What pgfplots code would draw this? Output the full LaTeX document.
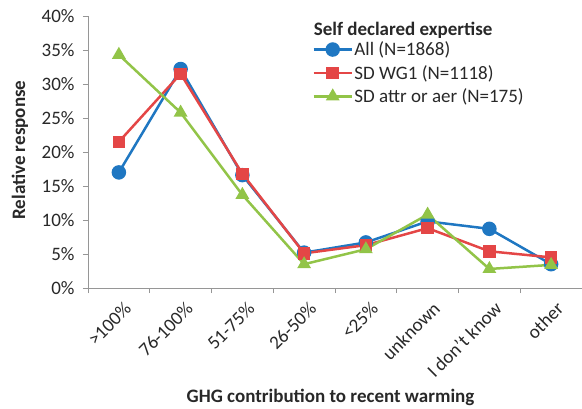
\documentclass[border=0pt]{standalone}
\usepackage{pgfplots}
\pgfplotsset{compat=1.18}
\usepackage{fontspec}
\setmainfont{Carlito}
\definecolor{cblue}{RGB}{31,119,194}
\definecolor{cred}{RGB}{228,70,70}
\definecolor{cgreen}{RGB}{146,196,72}
\definecolor{axgrey}{RGB}{150,150,150}
\definecolor{txt}{RGB}{40,40,40}
\pgfplotstableread{
x all wg attr
0 17.0 21.5 34.3
1 32.2 31.5 25.8
2 16.6 16.8 13.7
3 5.2 5.1 3.5
4 6.7 6.3 5.7
5 9.8 8.8 10.8
6 8.7 5.4 2.8
7 3.5 4.5 3.4
}\datatable
\begin{document}
\begin{tikzpicture}[x=1pt,y=1pt]
\path[use as bounding box] (0,0) rectangle (582,408);
\begin{axis}[
  at={(88pt,120pt)}, anchor=south west,
  scale only axis, width=494pt, height=272pt,
  xmin=-0.5, xmax=7.5, ymin=0, ymax=40,
  axis x line*=bottom, axis y line*=left,
  axis line style={axgrey, line width=0.8pt},
  xtick={0,...,7},
  xticklabels={>100\%,76-100\%,51-75\%,26-50\%,<25\%,unknown,I don't know,other},
  major x tick style={draw=none},
  minor xtick={-0.5,0.5,...,7.5},
  minor x tick style={axgrey, line width=0.8pt},
  ytick={0,5,...,40},
  y tick style={axgrey, line width=0.8pt},
  tick align=outside,
  major tick length=5pt, minor tick length=5pt,
  /pgf/number format/assume math mode=true,
  yticklabel={\pgfmathprintnumber{\tick}\%},
  yticklabel style={font=\fontsize{19}{21}\selectfont, text=txt, xshift=-5pt},
  xticklabel style={rotate=45, anchor=north east, font=\fontsize{19}{21}\selectfont, text=txt, xshift=1pt, yshift=-5pt},
  xlabel={GHG contribution to recent warming},
  xlabel style={at={(axis description cs:0.491,-0.404)}, anchor=center, font=\bfseries\fontsize{19}{21}\selectfont, text=txt},
  ylabel={Relative response},
  ylabel style={at={(axis description cs:-0.138,0.507)}, anchor=center, rotate=0, font=\bfseries\fontsize{19}{21}\selectfont, text=txt},
  legend style={at={(axis description cs:0.452,0.915)}, anchor=north west, draw=none, fill=none,
    font=\fontsize{19}{21}\selectfont, text=txt, row sep=5pt, inner sep=1pt,
    legend cell align=left, nodes={inner sep=1.5pt}},
  legend image code/.code={\draw[mark repeat=2, mark phase=2] plot coordinates {(0pt,0pt)(19pt,0pt)(38pt,0pt)};},
  clip=false,
]
\addplot[cblue, line width=2.5pt, mark=*, mark size=6pt, mark options={solid}] table[x=x,y=all] {\datatable};
\addlegendentry{All (N=1868)}
\addplot[cred, line width=2.5pt, mark=square*, mark size=5pt, mark options={solid}] table[x=x,y=wg] {\datatable};
\addlegendentry{SD WG1 (N=1118)}
\addplot[cgreen, line width=2.5pt, mark=triangle*, mark size=5.5pt, mark options={solid}] table[x=x,y=attr] {\datatable};
\addlegendentry{SD attr or aer (N=175)}
\node[anchor=west, font=\bfseries\fontsize{19}{21}\selectfont, text=txt] at (axis description cs:0.45,0.949) {Self declared expertise};
\end{axis}
\end{tikzpicture}
\end{document}
